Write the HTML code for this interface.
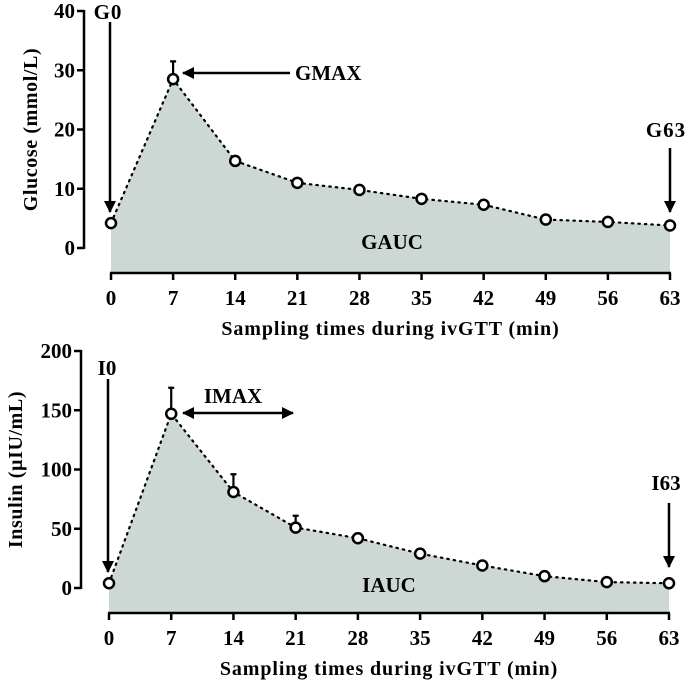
<!DOCTYPE html>
<html><head><meta charset="utf-8"><style>
body{margin:0;background:#fff}
svg text{font-family:"Liberation Serif",serif;font-weight:bold;fill:#000}
</style></head><body>
<svg width="685" height="685" viewBox="0 0 685 685">
<defs>
<marker id="ah2" markerWidth="12" markerHeight="12" refX="11" refY="6" orient="auto-start-reverse" markerUnits="userSpaceOnUse"><path d="M0,0 L12,6 L0,12 z" fill="#000"/></marker></defs>
<g id="top"></g>
<g id="bot"></g>
<g>
<text x="108" y="19" font-size="21" text-anchor="middle" letter-spacing="1">G0</text>
<line x1="110" y1="22" x2="110" y2="212" stroke="#000" stroke-width="2.5" marker-end="url(#ah2)"/>
<line x1="290" y1="73" x2="183" y2="73" stroke="#000" stroke-width="2.5" marker-end="url(#ah2)"/>
<text x="295" y="80" font-size="21">GMAX</text>
<text x="666" y="137" font-size="21" text-anchor="middle" letter-spacing="1">G63</text>
<line x1="670" y1="148" x2="670" y2="212" stroke="#000" stroke-width="2.5" marker-end="url(#ah2)"/>
<text x="392" y="249" font-size="21" text-anchor="middle">GAUC</text>
<text x="107" y="375" font-size="21" text-anchor="middle">I0</text>
<line x1="108" y1="379" x2="108" y2="572" stroke="#000" stroke-width="2.5" marker-end="url(#ah2)"/>
<text x="233" y="403" font-size="21" text-anchor="middle">IMAX</text>
<line x1="183" y1="413" x2="293" y2="413" stroke="#000" stroke-width="2.5" marker-start="url(#ah2)" marker-end="url(#ah2)"/>
<text x="666" y="490" font-size="21" text-anchor="middle">I63</text>
<line x1="669" y1="503" x2="669" y2="567" stroke="#000" stroke-width="2.5" marker-end="url(#ah2)"/>
<text x="389" y="592" font-size="21" text-anchor="middle">IAUC</text>
</g>
</svg>
<script>
const times=[0,7,14,21,28,35,42,49,56,63];
const glucose=[4.2,28.5,14.7,11,9.8,8.3,7.3,4.8,4.4,3.8];
const glucoseErr=[0,3,0,0,0,0,0,0,0,0];
const insulin=[4,147,81,51,42,29,19,10,5,4];
const insulinErr=[0,22,15,10,4,0,0,0,0,0];
const gTicks=[0,10,20,30,40];
const iTicks=[0,50,100,150,200];
const NS='http://www.w3.org/2000/svg';
function mk(p,t,a){const e=document.createElementNS(NS,t);for(const k in a)e.setAttribute(k,a[k]);p.appendChild(e);return e;}
function draw(g,o){
 const sx=t=>o.x0+(t-0)/63*(o.x1-o.x0);
 const sy=v=>o.y0-(v/o.max)*(o.y0-o.yTop);
 let d='M'+sx(times[0])+','+o.ax;
 o.vals.forEach((v,i)=>d+=' L'+sx(times[i])+','+sy(v));
 d+=' L'+sx(times[times.length-1])+','+o.ax+' Z';
 const a=mk(g,'path',{d:d,fill:'#cdd8d5'});
 
 
 const ln=mk(g,'polyline',{points:o.vals.map((v,i)=>sx(times[i])+','+sy(v)).join(' '),fill:'none',stroke:'#000','stroke-width':2.2,'stroke-dasharray':'1.5 5','stroke-linecap':'round'});
 
 
 o.vals.forEach((v,i)=>{
  if(o.err[i]>0){
   const e=mk(g,'path',{d:'M'+sx(times[i])+','+sy(v)+' V'+sy(v+o.err[i])+' M'+(sx(times[i])-3)+','+sy(v+o.err[i])+' h6',stroke:'#000','stroke-width':2.2,fill:'none'});
   
   
  }
  const c=mk(g,'circle',{cx:sx(times[i]),cy:sy(v),r:5,fill:'#fff',stroke:'#000','stroke-width':2.5});
  
  
 });
 const ya=mk(g,'line',{x1:o.yx,y1:sy(o.max)-1,x2:o.yx,y2:sy(0)+1,stroke:'#000','stroke-width':2.5});
 
 
 o.ticks.forEach(t=>{
  mk(g,'line',{x1:o.yx-7,y1:sy(t),x2:o.yx,y2:sy(t),stroke:'#000','stroke-width':2.5});
  const tx=mk(g,'text',{x:o.yx-9,y:sy(t)+7,'font-size':21,'text-anchor':'end'});tx.textContent=t;
  
  
 });
 const xa=mk(g,'line',{x1:sx(0)-1,y1:o.ax,x2:sx(63)+1,y2:o.ax,stroke:'#000','stroke-width':2.5});
 
 
 times.forEach(t=>{
  mk(g,'line',{x1:sx(t),y1:o.ax,x2:sx(t),y2:o.ax+7,stroke:'#000','stroke-width':2.5});
  const tx=mk(g,'text',{x:sx(t),y:o.ax+32,'font-size':21,'text-anchor':'middle'});tx.textContent=t;
  
  
 });
 const xt=mk(g,'text',{x:(sx(0)+sx(63))/2,y:o.ax+62,'font-size':20,'text-anchor':'middle','letter-spacing':'0.9'});xt.textContent='Sampling times during ivGTT (min)';
 
 
 const yt=mk(g,'text',{x:0,y:0,'font-size':20,'text-anchor':'middle','letter-spacing':'0.6',transform:'translate('+o.ytx+','+((sy(0)+sy(o.max))/2)+') rotate(-90)'});yt.textContent=o.title;
 
 
}
draw(document.getElementById('top'),{x0:111,x1:670,y0:248,yTop:11,max:40,ax:273,yx:84,vals:glucose,err:glucoseErr,ticks:gTicks,ytx:37,title:'Glucose (mmol/L)'});
draw(document.getElementById('bot'),{x0:109,x1:669,y0:588,yTop:351,max:200,ax:613,yx:81,vals:insulin,err:insulinErr,ticks:iTicks,ytx:22,title:'Insulin (µIU/mL)'});
</script>
</body></html>
